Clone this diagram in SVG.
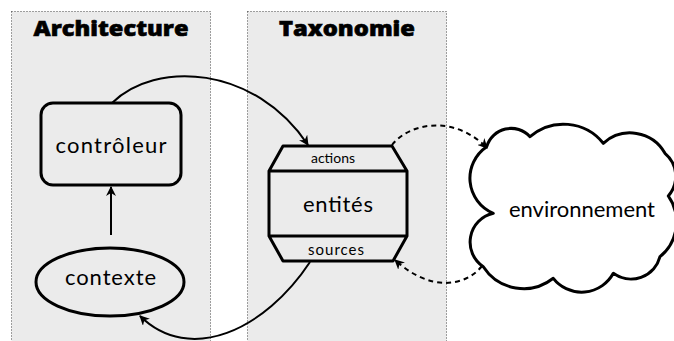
<svg xmlns="http://www.w3.org/2000/svg" width="674" height="341" viewBox="0 0 674 341">
<style>
.panel{fill:#ebebeb;stroke:#444;stroke-width:1;stroke-dasharray:1 2}
.title{font-family:"Open Sans",Lato,sans-serif;font-weight:800;font-size:21px;fill:#000;stroke:#000;stroke-width:0.6;text-anchor:middle}
.node{fill:none;stroke:#000;stroke-width:3;stroke-linejoin:round}
.lbl{font-family:Lato,"Open Sans",sans-serif;font-size:22px;fill:#000;text-anchor:middle}
.small{font-family:Lato,"Open Sans",sans-serif;font-size:15px;fill:#000;text-anchor:middle}
.edge{fill:none;stroke:#000;stroke-width:2}
.dash{stroke-dasharray:5 4}
</style>
<defs>
<marker id="ah" viewBox="0 0 10 10" refX="9" refY="5" markerWidth="5" markerHeight="5" orient="auto" markerUnits="strokeWidth">
<path d="M0,0 L10,5 L0,10 L3,5 z" fill="#000"/>
</marker>
</defs>
<g id="panel-architecture">
<rect class="panel" x="11.5" y="11.5" width="199" height="340"/>
<text class="title" x="111" y="36" textLength="155" lengthAdjust="spacingAndGlyphs">Architecture</text>
</g>
<g id="panel-taxonomie">
<rect class="panel" x="247.5" y="11.5" width="199" height="340"/>
<text class="title" x="347" y="36" textLength="136" lengthAdjust="spacingAndGlyphs">Taxonomie</text>
</g>
<g id="controleur">
<rect class="node" x="41" y="103" width="140" height="82" rx="12"/>
<text class="lbl" x="111" y="153" textLength="111">contrôleur</text>
</g>
<g id="contexte">
<ellipse class="node" cx="110" cy="282" rx="74" ry="34"/>
<text class="lbl" x="110.5" y="285" textLength="91">contexte</text>
</g>
<g id="entites">
<path class="node" d="M283,146 L392,146 L407,171 L407,236 L393,261 L283,261 L269,236 L269,171 Z M269,171 L407,171 M269,236 L407,236"/>
<text class="small" x="333" y="163" style="font-size:14px" textLength="44">actions</text>
<text class="lbl" x="338" y="212" textLength="70">entités</text>
<text class="small" x="336" y="255" textLength="56">sources</text>
</g>
<g id="environnement">
<path class="node" d="M486.7,146.7 A25.5,25.5 0 0 1 530,136.7 A51,51 0 0 1 603.3,143.3 A40,40 0 0 1 665,153.3 A30,30 0 0 1 668.3,196 A45,45 0 0 1 660,256.7 A30,30 0 0 1 613.3,273.3 A36,36 0 0 1 553.3,278.3 A48,48 0 0 1 483.3,266.7 A29.5,29.5 0 0 1 493.3,213.3 A38,38 0 0 1 486.7,146.7 Z" fill="#fff"/>
<text class="lbl" x="582" y="217" textLength="146">environnement</text>
</g>
<g id="connectors">
<path class="edge" d="M112,103 C155,60 255,65 308,145" marker-end="url(#ah)"/>
<path class="edge" d="M111,235 L111,187" marker-end="url(#ah)"/>
<path class="edge" d="M310,262 C265,330 190,365 140,316" marker-end="url(#ah)"/>
<path class="edge dash" d="M392,145 C410,122 455,115 487,148" marker-end="url(#ah)"/>
<path class="edge dash" d="M482,266 C465,287 430,292 395,260" marker-end="url(#ah)"/>
</g>
</svg>
